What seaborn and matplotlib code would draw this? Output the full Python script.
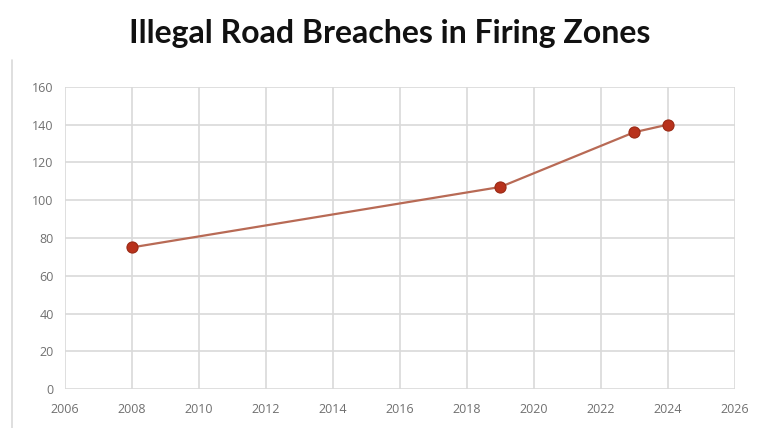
import matplotlib
matplotlib.use("Agg")
import matplotlib.pyplot as plt
import seaborn as sns
import pandas as pd
from matplotlib.lines import Line2D

years = [2008, 2019, 2023, 2024]
breaches = [75, 107, 136, 140]
x_ticks = list(range(2006, 2027, 2))
y_ticks = list(range(0, 161, 20))
title = "Illegal Road Breaches in Firing Zones"

df = pd.DataFrame({"Year": years, "Breaches": breaches})

sns.set_theme(style="whitegrid")
plt.rcParams["font.family"] = ["Open Sans", "DejaVu Sans"]

fig = plt.figure(figsize=(7.63, 4.28), dpi=100)
ax = fig.add_axes([0.085, 0.091, 0.878, 0.706])

sns.lineplot(data=df, x="Year", y="Breaches", ax=ax, color="#b86a55",
             linewidth=1.6, marker="o", markersize=8,
             markerfacecolor="#b8321c", markeredgecolor="#9a2a15",
             markeredgewidth=0.8)

ax.set_xlim(2006, 2026)
ax.set_ylim(0, 160)
ax.set_xticks(x_ticks)
ax.set_yticks(y_ticks)
ax.set_xlabel("")
ax.set_ylabel("")
ax.grid(True, color="#d9d9d9", linewidth=1.2)
for s in ax.spines.values():
    s.set_visible(False)
ax.tick_params(axis="both", colors="#707070", labelsize=9, length=0, pad=8)
ax.tick_params(axis="x", pad=10)

fig.text(0.511, 0.922, title, ha="center", va="center", fontsize=23,
         fontweight="bold", color="#111111", family=["Lato", "DejaVu Sans"])

# chart-area border on the left
fig.add_artist(Line2D([0.016, 0.016], [0.0, 0.86], color="#d9d9d9",
                      linewidth=1.2, transform=fig.transFigure))

fig.savefig("out.png", dpi=100)
